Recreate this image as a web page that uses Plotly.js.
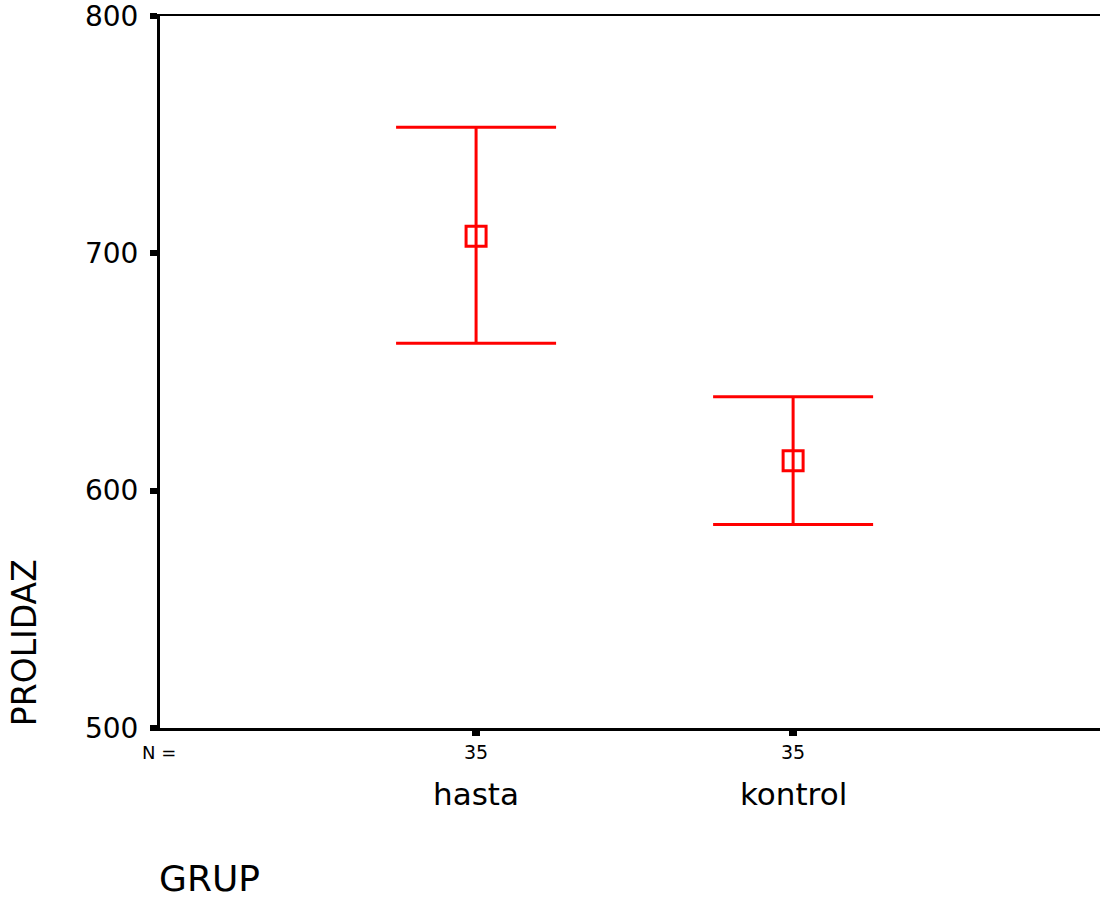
<!DOCTYPE html>
<html>
<head>
<meta charset="utf-8">
<script src="https://cdn.plot.ly/plotly-3.0.1.min.js"></script>
<style>html,body{margin:0;padding:0;background:#fff;}#chart{width:1100px;height:898px;}</style>
</head>
<body>
<div id="chart"></div>
<script>
// Data (SPSS error bar chart, 95% CI of mean)
const categories = ['hasta', 'kontrol'];
const nCounts = [35, 35];
const means = [707.2, 612.6];
const upperCI = [753.1, 639.6];
const lowerCI = [662.1, 585.7];
const yTickVals = [500, 600, 700, 800];

const FONT = 'DejaVu Sans, Verdana, sans-serif';
const RED = '#ff0000';

const trace = {
  type: 'scatter',
  mode: 'markers',
  x: categories,
  y: means,
  marker: {symbol: 'square-open', size: 20, color: RED, line: {width: 3, color: RED}},
  error_y: {
    type: 'data',
    symmetric: false,
    array: upperCI.map((u, i) => u - means[i]),
    arrayminus: lowerCI.map((l, i) => means[i] - l),
    color: RED,
    thickness: 3,
    width: 80
  },
  hoverinfo: 'x+y',
  showlegend: false,
  cliponaxis: false
};

const annotations = [];
categories.forEach((c, i) => {
  annotations.push({x: c, xref: 'x', y: -0.034, yref: 'paper', text: String(nCounts[i]),
    showarrow: false, xanchor: 'center', yanchor: 'middle', font: {family: FONT, size: 19, color: '#000'}});
  annotations.push({x: c, xref: 'x', y: -0.092, yref: 'paper', text: c,
    showarrow: false, xanchor: 'center', yanchor: 'middle', font: {family: FONT, size: 31, color: '#000'}});
});
annotations.push({x: -0.0213, xref: 'paper', y: -0.034, yref: 'paper', text: 'N =',
  showarrow: false, xanchor: 'left', yanchor: 'middle', font: {family: FONT, size: 18, color: '#000'}});
annotations.push({x: -0.003, xref: 'paper', y: -0.211, yref: 'paper', text: 'GRUP',
  showarrow: false, xanchor: 'left', yanchor: 'middle', font: {family: FONT, size: 36, color: '#000'}});
annotations.push({x: -0.144, xref: 'paper', y: 0, yref: 'paper', text: 'PROLIDAZ', textangle: -90,
  showarrow: false, xanchor: 'center', yanchor: 'bottom', font: {family: FONT, size: 33, color: '#000'}});

const layout = {
  width: 1100,
  height: 898,
  margin: {l: 160, r: 0, t: 16, b: 170},
  paper_bgcolor: '#fff',
  plot_bgcolor: '#fff',
  font: {family: FONT, color: '#000'},
  xaxis: {
    type: 'category',
    range: [-0.997, 1.968],
    showgrid: false,
    zeroline: false,
    showline: true,
    linecolor: '#000',
    linewidth: 2.5,
    mirror: true,
    ticks: 'outside',
    ticklen: 5,
    tickwidth: 8,
    tickcolor: '#000',
    showticklabels: false
  },
  yaxis: {
    range: [500, 800],
    tickvals: yTickVals,
    ticktext: yTickVals.map(String),
    showgrid: false,
    zeroline: false,
    showline: true,
    linecolor: '#000',
    linewidth: 3,
    ticks: 'outside',
    ticklen: 7,
    tickwidth: 6,
    tickcolor: '#000',
    ticklabelstandoff: 6,
    ticklabeloverflow: 'allow',
    tickfont: {family: FONT, size: 28, color: '#000'}
  },
  annotations: annotations
};

Plotly.newPlot('chart', [trace], layout, {staticPlot: true, displayModeBar: false});
</script>
</body>
</html>
